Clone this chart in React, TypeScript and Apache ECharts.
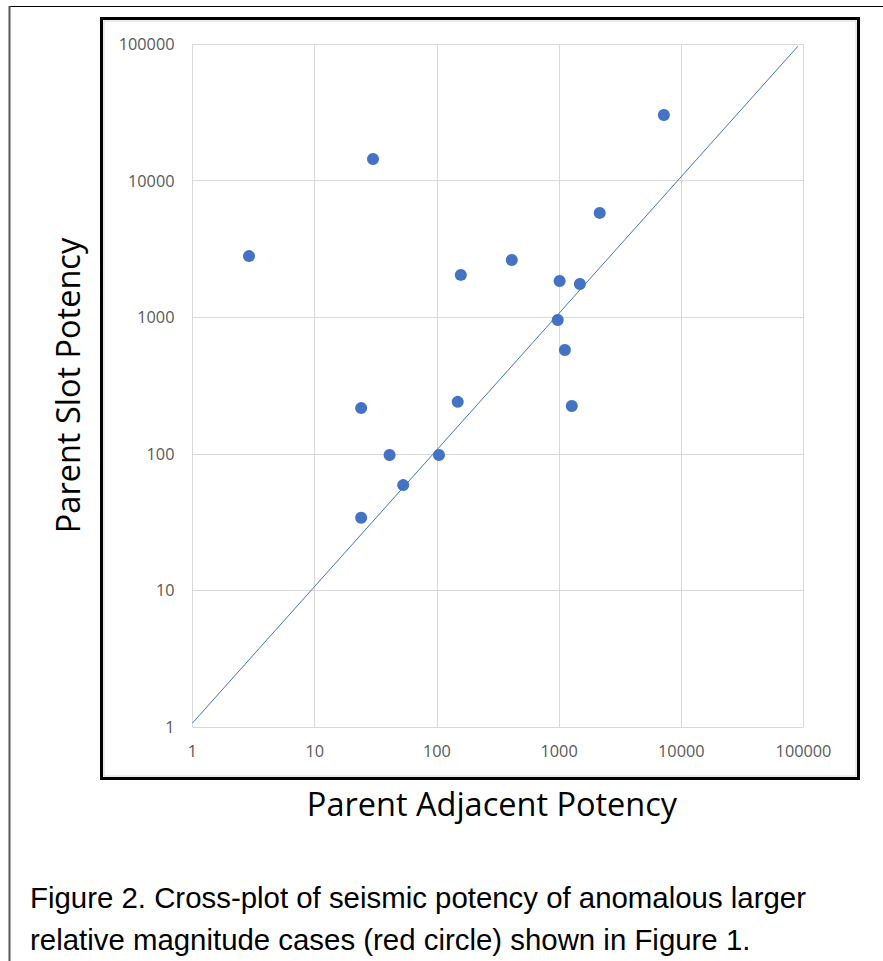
import React, { useEffect, useRef } from "react";
import * as echarts from "echarts";

const adjacentPotency = [2.9, 30, 24, 41, 53, 24, 104, 148, 157, 410, 1010, 1480, 975, 1115, 1270, 2150, 7200];
const slotPotency = [2800, 14400, 216, 98, 59, 34, 98, 240, 2040, 2620, 1840, 1750, 955, 575, 224, 5800, 30200];
const refLineX = [1, 90000];
const refLineY = [1.07, 96300];
const axisMin = 1;
const axisMax = 100000;
const xTitle = "Parent Adjacent Potency";
const yTitle = "Parent Slot Potency";
const captionLines = [
  "Figure 2. Cross-plot of seismic potency of anomalous larger",
  "relative magnitude cases (red circle) shown in Figure 1.",
];

export default function App() {
  const ref = useRef<HTMLDivElement>(null);
  useEffect(() => {
    if (!ref.current) return;
    const chart = echarts.init(ref.current, null, { renderer: "svg" });
    const tickFont = { fontFamily: "Open Sans", fontSize: 16.3, color: "#595959" };
    const fmt = (v: number) => String(Math.round(v));
    chart.setOption({
      animation: false,
      backgroundColor: "#ffffff",
      grid: { left: 192.5, top: 44, width: 611, height: 683, containLabel: false },
      xAxis: {
        type: "log",
        logBase: 10,
        min: axisMin,
        max: axisMax,
        axisLine: { show: false },
        axisTick: { show: false },
        axisLabel: { ...tickFont, margin: 16, formatter: fmt },
        splitLine: { show: true, lineStyle: { color: "#d9d9d9", width: 1 } },
      },
      yAxis: {
        type: "log",
        logBase: 10,
        min: axisMin,
        max: axisMax,
        axisLine: { show: false },
        axisTick: { show: false },
        axisLabel: { ...tickFont, margin: 18, formatter: fmt },
        splitLine: { show: true, lineStyle: { color: "#d9d9d9", width: 1 } },
      },
      series: [
        {
          type: "line",
          data: refLineX.map((x, i) => [x, refLineY[i]]),
          showSymbol: false,
          symbol: "none",
          lineStyle: { color: "#3f74c0", width: 1 },
          silent: true,
        },
        {
          type: "scatter",
          data: adjacentPotency.map((x, i) => [x, slotPotency[i]]),
          symbolSize: 12,
          itemStyle: { color: "#4472C4", opacity: 1 },
        },
      ],
      graphic: [
        { type: "line", shape: { x1: 9.5, y1: 6.5, x2: 883, y2: 6.5 }, style: { stroke: "#000", lineWidth: 1 } },
        { type: "line", shape: { x1: 9.5, y1: 6, x2: 9.5, y2: 961 }, style: { stroke: "#555", lineWidth: 2 } },
        { type: "rect", shape: { x: 104, y: 21, width: 752, height: 755 }, style: { fill: "none", stroke: "#d9d9d9", lineWidth: 1 } },
        { type: "rect", shape: { x: 101.5, y: 18.5, width: 757, height: 760 }, style: { fill: "none", stroke: "#000", lineWidth: 3 } },
        {
          type: "text",
          x: 492,
          y: 803,
          style: { text: xTitle, fontFamily: "Open Sans", fontSize: 32.5, fill: "#000", align: "center", verticalAlign: "middle" },
        },
        {
          type: "text",
          x: 67,
          y: 385.5,
          rotation: Math.PI / 2,
          style: { text: yTitle, fontFamily: "Open Sans", fontSize: 32.5, fill: "#000", align: "center", verticalAlign: "middle" },
        },
        ...captionLines.map((t, i) => ({
          type: "text",
          x: 30,
          y: 897 + i * 42,
          style: { text: t, fontFamily: "Liberation Sans", fontSize: 29.4, fill: "#000", align: "left", verticalAlign: "middle" },
        })),
      ],
    });
    return () => chart.dispose();
  }, []);
  return <div ref={ref} style={{ position: "absolute", left: 0, top: 0, width: 883, height: 961 }} />;
}
